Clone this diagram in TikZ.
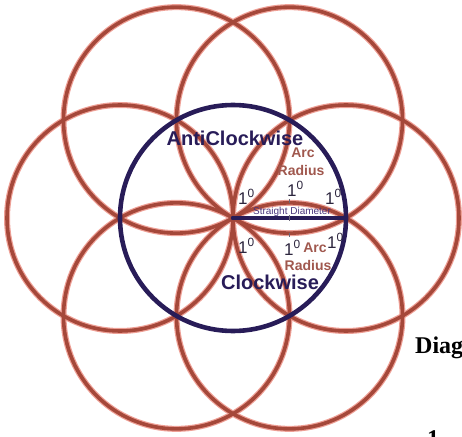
\documentclass[tikz,border=0pt]{standalone}
\usepackage{fontspec}
\setmainfont{Liberation Sans}
\newfontfamily\capfont{Liberation Serif}
\usepackage{xcolor}
\usetikzlibrary{positioning}

\definecolor{petalred}{RGB}{165,72,58}
\definecolor{glowred}{RGB}{238,160,150}
\definecolor{navy}{RGB}{40,28,88}
\definecolor{arctxt}{RGB}{160,88,78}
\definecolor{degtxt}{RGB}{45,38,62}
\definecolor{diamtxt}{RGB}{75,55,125}

\begin{document}
\begin{tikzpicture}[x=1pt,y=1pt,
   halo/.style={draw=glowred,line width=6pt},
   petal/.style={draw=petalred,line width=3.6pt},
   rim/.style={draw=navy,line width=4.6pt},
   big/.style={font=\fontsize{20}{20}\selectfont\bfseries,text=navy,inner sep=0pt},
   arclbl/.style={font=\fontsize{14}{15}\selectfont\bfseries,text=arctxt,inner sep=0pt},
   deg/.style={font=\fontsize{17}{17}\selectfont,text=degtxt,inner sep=0pt,anchor=base west},
   tick/.style={draw=degtxt!70,line width=1pt}]
  \useasboundingbox (-233,-218) rectangle (229,218);
  \clip (-233,-218) rectangle (229,218);
  % centre and the six petal centres
  \coordinate (o) at (0,0);
  \coordinate (c0) at (0:113);
  \coordinate (c1) at (60:113);
  \coordinate (c2) at (120:113);
  \coordinate (c3) at (180:113);
  \coordinate (c4) at (240:113);
  \coordinate (c5) at (300:113);
  \coordinate (e) at (113,0);
  \coordinate (m) at (56.5,0);
  % red circles
  \draw[halo] (c0) circle (113);
  \draw[halo] (c1) circle (113);
  \draw[halo] (c2) circle (113);
  \draw[halo] (c3) circle (113);
  \draw[halo] (c4) circle (113);
  \draw[halo] (c5) circle (113);
  \draw[petal] (c0) circle (113);
  \draw[petal] (c1) circle (113);
  \draw[petal] (c2) circle (113);
  \draw[petal] (c3) circle (113);
  \draw[petal] (c4) circle (113);
  \draw[petal] (c5) circle (113);
  % blue circle and radius
  \draw[rim] (o) circle (113);
  \draw[navy,line width=4pt] (o) -- (e);
  \fill[navy] (o) circle (2.2);
  \draw[tick] (m) ++(0,-3) -- ++(0,6);
  \draw[tick] (m) ++(0,15) -- ++(0,4);
  \draw[tick] (m) ++(0,-19) -- ++(0,4);
  % labels
  \node[big] (acw) at (2,80) {AntiClockwise};
  \node[big] (cw) at (37,-64) {Clockwise};
  \node[arclbl] (arcu) at (70,65) {Arc};
  \node[arclbl] (radu) at (68,48) {Radius};
  \node[arclbl] (arcl) at (82,-30) {Arc};
  \node[arclbl] (radl) at (75,-47) {Radius};
  \node[font=\fontsize{10}{10}\selectfont,text=diamtxt,inner sep=0pt] (diam) at (59,6) {Straight Diameter};
  \node[deg] (d1) at (5,14) {1\textsuperscript{0}};
  \node[deg] (d2) at (54,22) {1\textsuperscript{0}};
  \node[deg] (d3) at (92,14) {1\textsuperscript{0}};
  \node[deg] (d4) at (5,-35) {1\textsuperscript{0}};
  \node[deg] (d5) at (51,-37) {1\textsuperscript{0}};
  \node[deg] (d6) at (94,-30) {1\textsuperscript{0}};
  \node[font=\capfont\fontsize{24}{24}\selectfont\bfseries,inner sep=0pt,anchor=base west] (diag) at (182,-135) {Diag};
  \node[font=\capfont\fontsize{24}{24}\selectfont\bfseries,inner sep=0pt,anchor=base] (num) at (200,-228) {1};
\end{tikzpicture}
\end{document}
